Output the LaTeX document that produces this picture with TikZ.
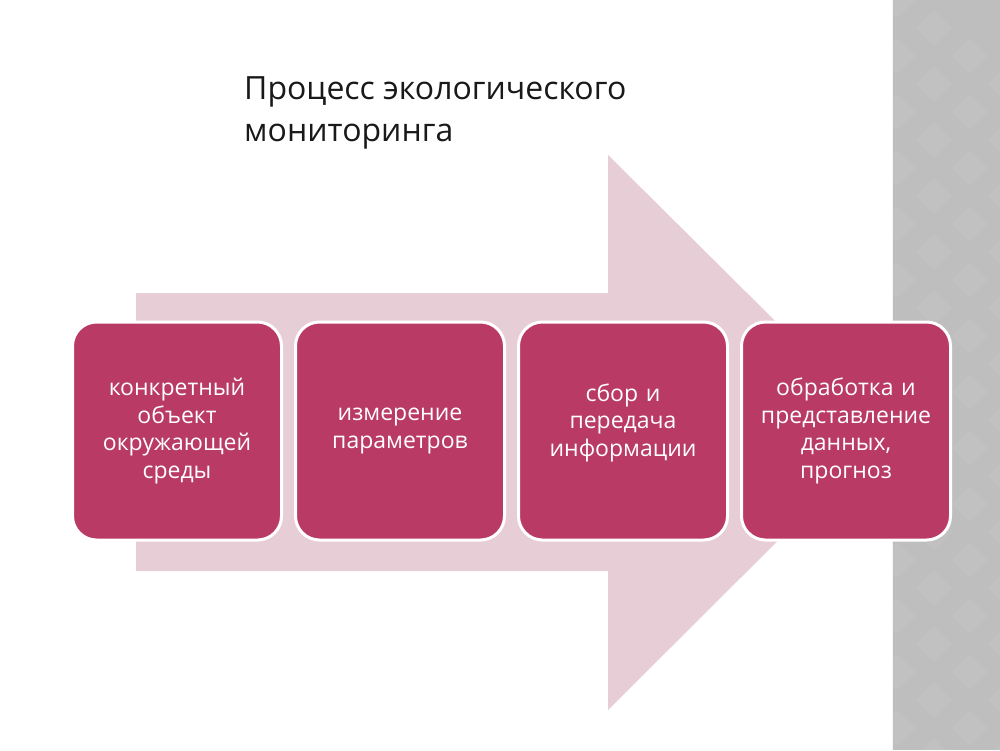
\documentclass[tikz,border=0pt]{standalone}
\usepackage{fontspec}
\setmainfont{Open Sans}
\usetikzlibrary{positioning}
\definecolor{stepfill}{RGB}{185,58,101}
\definecolor{arrowpink}{RGB}{231,206,214}
\definecolor{stripgrey}{RGB}{190,190,190}

\begin{document}
\begin{tikzpicture}[x=1pt,y=-1pt,
    stage/.style={draw=white,line width=3pt,fill=stepfill,rounded corners=24pt,
      minimum width=209pt,minimum height=218pt,inner sep=0pt,
      text width=200pt,align=center,text=white,font=\fontsize{23}{27.5}\selectfont},
    title/.style={align=left,text=black!90,font=\fontsize{32}{42}\selectfont,inner sep=0pt}]
      \useasboundingbox (0,0) rectangle (1000,750);
      \fill[white] (0,0) rectangle (1000,750);
      \begin{scope}
        \clip (892,0) rectangle (1000,750);
        \fill[stripgrey] (892,0) rectangle (1000,750);
        \foreach \i in {0,...,4}
          \foreach \j in {0,...,13}
            \fill[white,opacity=.05] ({880+\i*36},{\j*56+\i*28}) -- ++(18,-18) -- ++(18,18) -- ++(-18,18) -- cycle;
        \draw[white!85!stripgrey,line width=1pt] (892.5,0) -- (892.5,750);
      \end{scope}
      \fill[arrowpink] (136,293) -- (608,293) -- (608,155) -- (887,432)
        -- (608,710) -- (608,571) -- (136,571) -- cycle;
      \node[title,anchor=base west] (heading) at (244,141) {Процесс экологического\\мониторинга};
      \node[stage] (object) at (177,431) {конкретный\\объект\\окружающей\\среды};
      \node[stage,right=11pt of object] (measure) {измерение\\параметров};
      \node[stage,right=11pt of measure] (collect) {сбор и\\передача\\информации\\[-5pt]\mbox{}};
      \node[stage,right=11pt of collect] (process) {обработка и\\представление\\данных,\\прогноз};
    \end{tikzpicture}
\end{document}
